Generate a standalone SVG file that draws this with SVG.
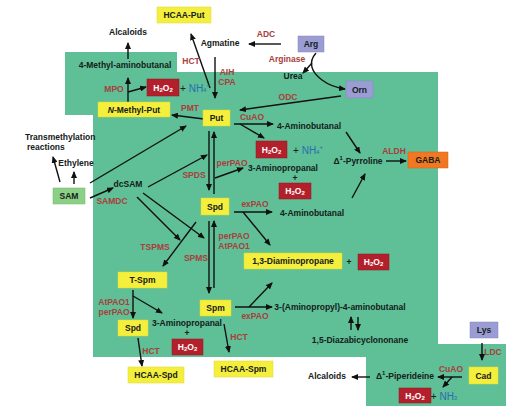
<svg xmlns="http://www.w3.org/2000/svg" width="515" height="414" viewBox="0 0 515 414">
<defs>
<marker id="ah" markerWidth="7" markerHeight="6" refX="6" refY="3" orient="auto" markerUnits="userSpaceOnUse">
<path d="M0,0 L7,3 L0,6 z" fill="#111"/>
</marker>
<style>
text{font-family:"Liberation Sans",Arial,sans-serif;font-weight:bold;font-size:8.5px;text-anchor:middle;dominant-baseline:central;fill:#14201a}
.e{fill:#a8403c;font-size:8.5px}
.b{fill:#2a6cb0;font-weight:normal;font-size:10px}
.w{fill:#fff}
.y{fill:#f4ee3c;stroke:#e0da30;stroke-width:0.5}
.r{fill:#b3202c;stroke:#8c1820;stroke-width:0.5}
.p{fill:#9c9cd4;stroke:#8686c0;stroke-width:0.5}
.o{fill:#f07822;stroke:#d86010;stroke-width:0.5}
.g{fill:#8ccf86;stroke:#70b86a;stroke-width:0.5}
.c line,.c path{stroke:#111;stroke-width:1.4;fill:none}
.a{marker-end:url(#ah)}
</style>
</defs>
<rect width="515" height="414" fill="#fff"/>
<polygon points="65,52 177,52 177,72 438,72 438,344 506,344 506,406 366,406 366,357 93,357 93,115 65,115" fill="#5fbf97"/>

<g id="connectors" class="c">
<line class="a" x1="281" y1="44" x2="249" y2="44"/>
<path class="a" d="M316,53 C308,62 311,72 322,80 C330,86 338,88 345,89"/>
<line class="a" x1="312" y1="63" x2="303" y2="73"/>
<line class="a" x1="341" y1="96" x2="240" y2="110"/>
<line class="a" x1="215" y1="57" x2="215" y2="98"/>
<line class="a" x1="210" y1="88" x2="191" y2="34"/>
<line class="a" x1="204" y1="119" x2="172" y2="115"/>
<line class="a" x1="128" y1="102" x2="128" y2="78"/>
<line class="a" x1="128" y1="59" x2="128" y2="43"/>
<line class="a" x1="128" y1="92" x2="146" y2="87"/>
<line class="a" x1="234" y1="124" x2="273" y2="124"/>
<line class="a" x1="240" y1="124" x2="264" y2="138"/>
<line class="a" x1="346" y1="132" x2="360" y2="153"/>
<line class="a" x1="352" y1="198" x2="365" y2="174"/>
<line class="a" x1="386" y1="161" x2="406" y2="161"/>
<line class="a" x1="209" y1="131" x2="209" y2="190"/>
<line class="a" x1="214" y1="194" x2="214" y2="132"/>
<line class="a" x1="215" y1="178" x2="243" y2="168"/>
<line class="a" x1="148" y1="187" x2="207" y2="155"/>
<line class="a" x1="90" y1="183" x2="186" y2="126"/>
<line class="a" x1="90" y1="198" x2="113" y2="188"/>
<line class="a" x1="74" y1="184" x2="74" y2="172"/>
<line class="a" x1="60" y1="182" x2="53" y2="157"/>
<line class="a" x1="137" y1="197" x2="180" y2="240"/>
<line class="a" x1="143" y1="193" x2="204" y2="238"/>
<line class="a" x1="196" y1="222" x2="163" y2="266"/>
<line class="a" x1="234" y1="212" x2="272" y2="212"/>
<line class="a" x1="243" y1="212" x2="270" y2="245"/>
<line class="a" x1="209" y1="221" x2="209" y2="293"/>
<line class="a" x1="214" y1="288" x2="214" y2="221"/>
<line class="a" x1="235" y1="307" x2="272" y2="307"/>
<line class="a" x1="249" y1="307" x2="272" y2="283"/>
<line class="a" x1="351" y1="330" x2="351" y2="317"/>
<line class="a" x1="358" y1="317" x2="358" y2="330"/>
<line class="a" x1="133" y1="290" x2="133" y2="318"/>
<line class="a" x1="133" y1="296" x2="162" y2="313"/>
<line class="a" x1="138" y1="338" x2="142" y2="366"/>
<line class="a" x1="224" y1="324" x2="229" y2="352"/>
<line class="a" x1="482" y1="343" x2="482" y2="360"/>
<line class="a" x1="462" y1="377" x2="438" y2="377"/>
<line class="a" x1="452" y1="377" x2="443" y2="387"/>
<line class="a" x1="370" y1="377" x2="352" y2="377"/>
</g>

<g id="hcaa-put"><rect class="y" x="157" y="7" width="54" height="16"/><text x="184" y="15">HCAA-Put</text></g>
<g id="alcaloids1"><text x="128" y="32">Alcaloids</text></g>
<g id="agmatine"><text x="220" y="43">Agmatine</text></g>
<g id="arg"><rect class="p" x="298" y="36" width="26" height="16"/><text x="311" y="44">Arg</text></g>
<g id="urea"><text x="293" y="76">Urea</text></g>
<g id="orn"><rect class="p" x="346" y="81" width="27" height="17"/><text x="359.5" y="89.5">Orn</text></g>
<g id="methylaminobutanal"><text x="125" y="65">4-Methyl-aminobutanal</text></g>
<g id="h2o2-1"><rect class="r" x="147" y="79" width="32" height="17"/><text class="w" x="163" y="87.5">H<tspan font-size="6" dy="2">2</tspan><tspan dy="-2">O</tspan><tspan font-size="6" dy="2">2</tspan></text></g>
<g id="nh4-1"><text class="b" x="195" y="88"><tspan fill="#14201a">+</tspan> NH<tspan font-size="6" dy="2">4</tspan><tspan font-size="6" dy="-5">+</tspan></text></g>
<g id="n-methyl-put"><rect class="y" x="98" y="102" width="72" height="15"/><text x="134" y="109.5"><tspan font-style="italic">N</tspan>-Methyl-Put</text></g>
<g id="put"><rect class="y" x="203" y="110" width="27" height="16"/><text x="216.5" y="118">Put</text></g>
<g id="aminobutanal1"><text x="309" y="126">4-Aminobutanal</text></g>
<g id="h2o2-2"><rect class="r" x="256" y="141" width="31" height="17"/><text class="w" x="271.5" y="149.5">H<tspan font-size="6" dy="2">2</tspan><tspan dy="-2">O</tspan><tspan font-size="6" dy="2">2</tspan></text></g>
<g id="nh4-2"><text class="b" x="308" y="150"><tspan fill="#14201a">+</tspan> NH<tspan font-size="6" dy="2">4</tspan><tspan font-size="6" dy="-5">+</tspan></text></g>
<g id="aminopropanal1"><text x="283" y="168">3-Aminopropanal</text><text x="295" y="178">+</text></g>
<g id="h2o2-3"><rect class="r" x="279" y="183" width="32" height="16"/><text class="w" x="295" y="191">H<tspan font-size="6" dy="2">2</tspan><tspan dy="-2">O</tspan><tspan font-size="6" dy="2">2</tspan></text></g>
<g id="pyrroline"><text x="358" y="161">Δ<tspan font-size="6" dy="-3">1</tspan><tspan dy="3">-Pyrroline</tspan></text></g>
<g id="gaba"><rect class="o" x="408" y="152" width="40" height="16"/><text x="428" y="160">GABA</text></g>
<g id="aminobutanal2"><text x="312" y="213">4-Aminobutanal</text></g>
<g id="transmethylation"><text x="25" y="137" style="text-anchor:start">Transmethylation</text><text x="27" y="147" style="text-anchor:start">reactions</text></g>
<g id="ethylene"><text x="76" y="163">Ethylene</text></g>
<g id="sam"><rect class="g" x="53" y="188" width="32" height="16"/><text x="69" y="196">SAM</text></g>
<g id="dcsam"><text x="128" y="184" font-size="9.5">dcSAM</text></g>
<g id="spd1"><rect class="y" x="201" y="198" width="28" height="17"/><text x="215" y="206.5">Spd</text></g>
<g id="diaminopropane"><rect class="y" x="244" y="253" width="98" height="16"/><text x="293" y="261">1,3-Diaminopropane</text><text x="349" y="262">+</text></g>
<g id="h2o2-4"><rect class="r" x="358" y="254" width="31" height="16"/><text class="w" x="373.5" y="262">H<tspan font-size="6" dy="2">2</tspan><tspan dy="-2">O</tspan><tspan font-size="6" dy="2">2</tspan></text></g>
<g id="tspm"><rect class="y" x="118" y="272" width="49" height="16"/><text x="142.5" y="280">T-Spm</text></g>
<g id="spm"><rect class="y" x="200" y="300" width="31" height="16"/><text x="215.5" y="308">Spm</text></g>
<g id="aminopropylaminobutanal"><text x="340" y="307">3-(Aminopropyl)-4-aminobutanal</text></g>
<g id="diazabicyclononane"><text x="360" y="340">1,5-Diazabicyclononane</text></g>
<g id="spd2"><rect class="y" x="118" y="320" width="30" height="16"/><text x="133" y="328">Spd</text></g>
<g id="aminopropanal2"><text x="187" y="323">3-Aminopropanal</text><text x="187" y="333">+</text></g>
<g id="h2o2-5"><rect class="r" x="172" y="339" width="31" height="16"/><text class="w" x="187.5" y="347">H<tspan font-size="6" dy="2">2</tspan><tspan dy="-2">O</tspan><tspan font-size="6" dy="2">2</tspan></text></g>
<g id="hcaa-spd"><rect class="y" x="128" y="367" width="56" height="16"/><text x="156" y="375">HCAA-Spd</text></g>
<g id="hcaa-spm"><rect class="y" x="214" y="361" width="59" height="16"/><text x="243.5" y="369">HCAA-Spm</text></g>
<g id="lys"><rect class="p" x="470" y="322" width="28" height="16"/><text x="484" y="330">Lys</text></g>
<g id="cad"><rect class="y" x="469" y="367" width="29" height="17"/><text x="483.5" y="375.5">Cad</text></g>
<g id="piperideine"><text x="405" y="376">Δ<tspan font-size="6" dy="-3">1</tspan><tspan dy="3">-Piperideine</tspan></text></g>
<g id="alcaloids2"><text x="327" y="376">Alcaloids</text></g>
<g id="h2o2-6"><rect class="r" x="399" y="388" width="32" height="15"/><text class="w" x="415" y="395.5">H<tspan font-size="6" dy="2">2</tspan><tspan dy="-2">O</tspan><tspan font-size="6" dy="2">2</tspan></text></g>
<g id="nh3"><text class="b" x="444" y="396" font-size="9"><tspan fill="#14201a">+</tspan> NH<tspan font-size="6" dy="2">3</tspan></text></g>

<g id="enzymes">
<text class="e" x="266" y="34">ADC</text>
<text class="e" x="287" y="59">Arginase</text>
<text class="e" x="288" y="97">ODC</text>
<text class="e" x="191" y="61">HCT</text>
<text class="e" x="227" y="72">AIH</text>
<text class="e" x="227" y="82">CPA</text>
<text class="e" x="114" y="89">MPO</text>
<text class="e" x="190" y="108">PMT</text>
<text class="e" x="252" y="117">CuAO</text>
<text class="e" x="394" y="151">ALDH</text>
<text class="e" x="232" y="163">perPAO</text>
<text class="e" x="194" y="175">SPDS</text>
<text class="e" x="112" y="201">SAMDC</text>
<text class="e" x="255" y="204">exPAO</text>
<text class="e" x="234" y="236">perPAO</text>
<text class="e" x="234" y="246">AtPAO1</text>
<text class="e" x="155" y="247">TSPMS</text>
<text class="e" x="196" y="258">SPMS</text>
<text class="e" x="114" y="302">AtPAO1</text>
<text class="e" x="114" y="312">perPAO</text>
<text class="e" x="255" y="316">exPAO</text>
<text class="e" x="239" y="337">HCT</text>
<text class="e" x="151" y="351">HCT</text>
<text class="e" x="493" y="352">LDC</text>
<text class="e" x="451" y="369">CuAO</text>
</g>
</svg>
